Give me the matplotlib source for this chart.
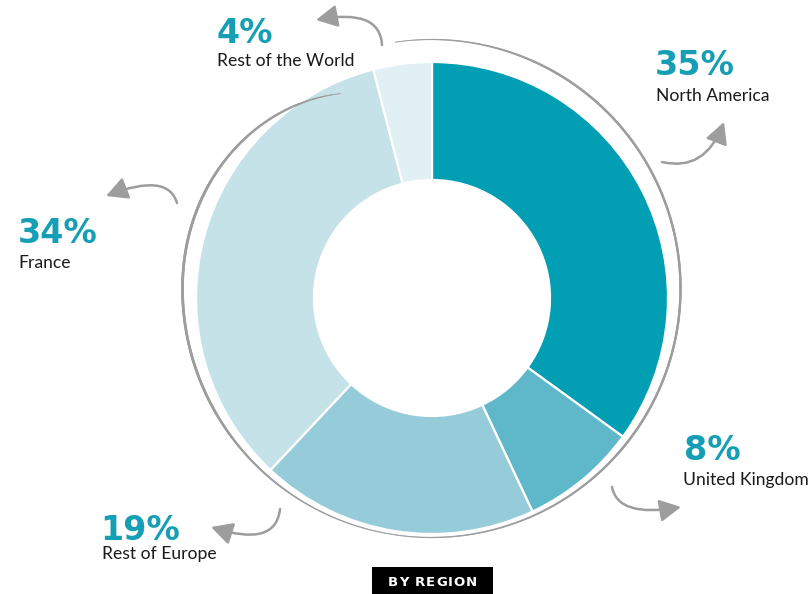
import numpy as np
import matplotlib
matplotlib.use("Agg")
import matplotlib.pyplot as plt
from matplotlib.patches import FancyArrowPatch, Rectangle
from matplotlib.path import Path
from matplotlib.collections import LineCollection

# ---------------- data ----------------
regions = ["North America", "United Kingdom", "Rest of Europe", "France", "Rest of the World"]
shares = [35, 8, 19, 34, 4]
colors = ["#019eb4", "#5eb8ca", "#96ccd9", "#c5e2e8", "#e0f0f4"]
pct_labels = ["35%", "8%", "19%", "34%", "4%"]
title = "BY REGION"

W, H = 810, 594
fig = plt.figure(figsize=(W / 100, H / 100), dpi=100)
ax = fig.add_axes([0, 0, 1, 1])


def P(x, y):
    return (x, H - y)


# ---------------- donut ----------------
cx, cy = P(432, 298)
ax.pie(shares, colors=colors, startangle=90, counterclock=False,
       center=(cx, cy), radius=236, frame=True,
       wedgeprops=dict(width=118, edgecolor="white", linewidth=1.6))
ax.set_xlim(0, W)
ax.set_ylim(0, H)
ax.axis("off")
ax.set_aspect("auto")

# ---------------- grey surrounding arc ----------------
gcx, gcy = P(431.5, 288.5)
theta = np.linspace(98.4, -245, 1200)
teq = theta + 360
frac = np.clip((181 - teq) / 66.0, 0, None)
r = 249 - 34 * frac ** 2.5
xs = gcx + r * np.cos(np.radians(theta))
ys = gcy + r * np.sin(np.radians(theta))
pts = np.column_stack([xs, ys]).reshape(-1, 1, 2)
segs = np.concatenate([pts[:-1], pts[1:]], axis=1)
tm = theta[:-1]
lw = np.interp(-tm, [-98.4, -80, -60, 40, 80, 100, 120, 150, 200, 232, 245],
               [0.6, 1.1, 1.7, 1.7, 1.0, 0.7, 1.0, 1.9, 2.0, 1.5, 0.5])
lc = LineCollection(segs, colors="#9d9d9d", linewidths=lw, capstyle="round", zorder=1)
ax.add_collection(lc)

# ---------------- curved arrows ----------------
arrows = [
    ((382, 45), (380, 8), (316, 20)),     # Rest of the World
    ((662, 162), (705, 172), (724, 122)), # North America
    ((612, 487), (618, 518), (681, 507)), # United Kingdom
    ((177, 203), (168, 172), (106, 196)), # France
    ((280, 509), (276, 548), (211, 527)), # Rest of Europe
]
for a, c, b in arrows:
    path = Path([P(*a), P(*c), P(*b)], [Path.MOVETO, Path.CURVE3, Path.CURVE3])
    arr = FancyArrowPatch(path=path, arrowstyle="-|>,head_length=0.65,head_width=0.34",
                          mutation_scale=20, color="#9d9d9d", lw=1.8,
                          shrinkA=0, shrinkB=0, zorder=3)
    ax.add_patch(arr)

# ---------------- labels ----------------
pct_pos = [(655, 75), (684, 460), (100, 540), (18, 243), (217, 43)]
name_pos = [(656, 101), (683, 485), (102, 559), (18, 268), (217, 66)]
pct_color = "#169fb4"
for i in range(len(regions)):
    ax.text(*P(*pct_pos[i]), pct_labels[i], color=pct_color, fontsize=24,
            fontweight="bold", family="DejaVu Sans", ha="left", va="baseline")
    ax.text(*P(*name_pos[i]), regions[i], color="#1a1a1a", fontsize=12.6,
            family="Lato", ha="left", va="baseline")

# ---------------- title box ----------------
bx0, by1 = P(372, 594)
ax.add_patch(Rectangle((bx0, by1), 121, 27, facecolor="black", edgecolor="none", zorder=4))

renderer = fig.canvas.get_renderer()
spacing = 1.0  # px between letters
chars = []
widths = []
for ch in title:
    t = ax.text(0, 0, ch if ch != " " else "\u00a0", color="white", fontsize=9.5,
                fontweight="bold", family="DejaVu Sans", ha="left", va="baseline", zorder=5)
    bb = t.get_window_extent(renderer)
    w = bb.width if ch != " " else 4.0
    chars.append(t)
    widths.append(w)
total = sum(widths) + spacing * (len(title) - 1)
x0 = 432.5 - total / 2
for t, w in zip(chars, widths):
    t.set_position(P(x0, 585.5))
    x0 += w + spacing

fig.savefig("out.png", dpi=100)
